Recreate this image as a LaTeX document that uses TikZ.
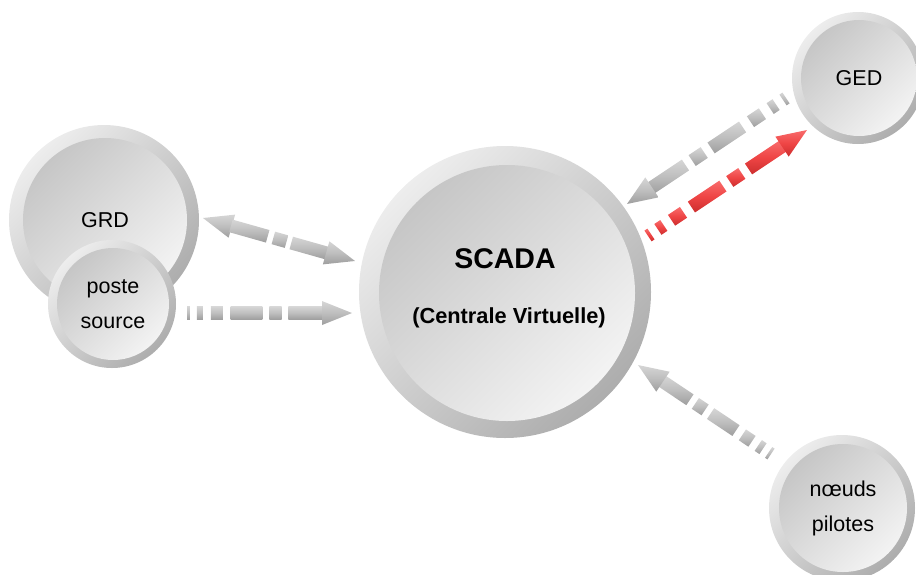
\documentclass[tikz,border=0pt]{standalone}
\usepackage{fontspec}
\setmainfont{Liberation Sans}
\usetikzlibrary{calc}

\definecolor{ringlight}{HTML}{EDEDED}
\definecolor{ringdark}{HTML}{ADADAD}
\definecolor{corelight}{HTML}{F3F3F3}
\definecolor{coredark}{HTML}{C6C6C6}
\definecolor{arrtop}{HTML}{D6D6D6}
\definecolor{arrmid}{HTML}{BEBEBE}
\definecolor{arrbot}{HTML}{9E9E9E}
\definecolor{redtop}{HTML}{F86C6C}
\definecolor{redmid}{HTML}{EF4545}
\definecolor{redbot}{HTML}{CC2E2E}

\tikzset{
  ring/.style={circle, inner sep=0pt, draw=none, top color=ringlight, bottom color=ringdark, shading angle=45},
  core/.style={circle, inner sep=0pt, draw=none, top color=coredark, bottom color=corelight, shading angle=45,
    align=center, font=\fontsize{21.5}{35}\selectfont},
  grayshade/.style={top color=arrtop, bottom color=arrbot, middle color=arrmid},
  redshade/.style={top color=redtop, bottom color=redbot, middle color=redmid},
}

% direction and length between two named points
\newcommand\arrowgeom[2]{%
  \path let \p1=(#1), \p2=(#2) in \pgfextra{%
    \pgfmathsetmacro\tmpang{atan2(\y2-\y1,\x2-\x1)}%
    \pgfmathsetmacro\tmplen{veclen(\x2-\x1,\y2-\y1)}%
    \xdef\arrang{\tmpang}\xdef\arrlen{\tmplen}};}

% broken arrow: small tail dashes growing towards the head
\newcommand\stripedarrow[3]{%
  \arrowgeom{#1}{#2}%
  \pgfmathsetmacro\shaftlen{\arrlen-30}%
  \begin{scope}[shift={(#1)}, rotate=\arrang]
    \foreach \a/\b in {0/.022,.074/.118,.176/.265,.324/.559,.61/.70,.75/1.01}
      \shade[#3] ({\a*\shaftlen},-6.5) rectangle ({\b*\shaftlen},6.5);
    \shade[#3] (\shaftlen,-12) -- (\arrlen,0) -- (\shaftlen,12) -- cycle;
  \end{scope}}

% broken arrow with a head at both ends
\newcommand\twinarrow[3]{%
  \arrowgeom{#1}{#2}%
  \pgfmathsetmacro\midlen{\arrlen-60}%
  \begin{scope}[shift={(#1)}, rotate=\arrang]
    \shade[#3] (0,0) -- (30,-12) -- (30,12) -- cycle;
    \foreach \a/\b in {-.01/.38,.44/.58,.63/1.01}
      \shade[#3] ({30+\a*\midlen},-6.5) rectangle ({30+\b*\midlen},6.5);
    \shade[#3] ({\arrlen-30},-12) -- (\arrlen,0) -- ({\arrlen-30},12) -- cycle;
  \end{scope}}

\begin{document}
\begin{tikzpicture}[x=1pt, y=-1pt]
  \useasboundingbox (0,0) rectangle (916,574);
  \clip (0,0) rectangle (916,574);

  % GRD with the source substation in front of it
  \node[ring, minimum size=190pt] (grd) at (104,220) {};
  \node[core, minimum size=164pt] (grd-core) at (105,220) {GRD};
  \node[ring, minimum size=128pt] (poste) at (112,304) {};
  \node[core, minimum size=112pt] (poste-core) at (113,304) {poste\\source};

  % central SCADA
  \node[ring, minimum size=292pt] (scada) at (505,292) {};
  \node[core, minimum size=256pt] (scada-core) at (507,293) {};
  \node[font=\bfseries\fontsize{28.5}{28.5}\selectfont] (scada-title) at (505,259) {SCADA};
  \node[font=\bfseries\fontsize{21.8}{21.8}\selectfont] (scada-sub) at (509,318) {(Centrale Virtuelle)};

  % GED and pilot nodes
  \node[ring, minimum size=132pt] (ged) at (858,78) {};
  \node[core, minimum size=116pt] (ged-core) at (859,78) {GED};
  \node[ring, minimum size=146pt] (noeuds) at (842,508) {};
  \node[core, minimum size=128pt] (noeuds-core) at (843,508) {nœuds\\pilotes};

  % arrow end points
  \coordinate (grd-end) at (203,218);
  \coordinate (scada-w1) at (355,261);
  \coordinate (poste-end) at (187,313);
  \coordinate (scada-w2) at (352,313);
  \coordinate (ged-out) at (786,98);
  \coordinate (scada-ne1) at (627,204);
  \coordinate (scada-ne2) at (648,236);
  \coordinate (ged-in) at (807,130);
  \coordinate (noeuds-out) at (771,454);
  \coordinate (scada-se) at (638,365);

  \twinarrow{grd-end}{scada-w1}{grayshade}
  \stripedarrow{poste-end}{scada-w2}{grayshade}
  \stripedarrow{ged-out}{scada-ne1}{grayshade}
  \stripedarrow{scada-ne2}{ged-in}{redshade}
  \stripedarrow{noeuds-out}{scada-se}{grayshade}
\end{tikzpicture}
\end{document}
